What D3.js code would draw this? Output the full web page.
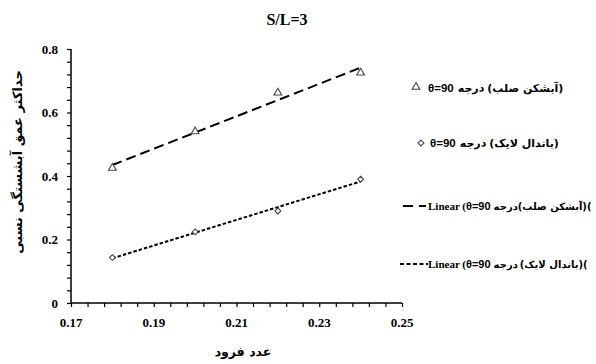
<!DOCTYPE html>
<html><head><meta charset="utf-8">
<script src="https://cdn.jsdelivr.net/npm/d3@7"></script>
<style>body{margin:0;background:#fff}svg{display:block}</style>
</head><body>
<svg id="c" width="596" height="364"></svg>
<script>
const title = "S/L=3";
const xLabel = "عدد فرود";
const yLabel = "حداکثر عمق آبشستگی نسبی";
const froude = [0.18, 0.20, 0.22, 0.24];
const rigidDepth = [0.425, 0.54, 0.662, 0.725];   // آبشکن صلب
const bandalDepth = [0.143, 0.224, 0.29, 0.39];   // باندال لایک
const xTicks = [0.17, 0.19, 0.21, 0.23, 0.25];
const yTicks = [0, 0.2, 0.4, 0.6, 0.8];
const legendRigid = ["θ=90", "درجه", "(آبشکن صلب)"];
const legendBandal = ["θ=90", "درجه", "(باندال لایک)"];
const legendRigidLin = ["Linear (", "θ=90", "درجه", "(آبشکن صلب)("];
const legendBandalLin = ["Linear (", "θ=90", "درجه", "(باندال لایک)("];

const svg = d3.select("#c");
const x = d3.scaleLinear().domain([0.17, 0.25]).range([71, 402]);
const y = d3.scaleLinear().domain([0, 0.8]).range([303, 49]);
const serif = "'Liberation Serif','Times New Roman',serif";
const sans = "'Liberation Sans',Arial,sans-serif";
const arab = "'DejaVu Sans',sans-serif";

// axes
const xAxis = d3.axisBottom(x).tickValues(d3.range(0, 21).map(i => 0.17 + i * 0.004)).tickSize(4).tickFormat("");
const gx = svg.append("g").attr("transform", "translate(0,303)").call(xAxis);
gx.select(".domain").attr("stroke", "#000").attr("stroke-width", 1.5).attr("d", "M71,0H402");
gx.selectAll(".tick line").attr("stroke", "#000").attr("stroke-width", 1.2);
svg.append("g").selectAll("text").data(xTicks).join("text")
  .attr("x", d => x(d)).attr("y", 327).attr("text-anchor", "middle")
  .attr("font-family", serif).attr("font-weight", "bold").attr("font-size", 13)
  .text(d => d.toFixed(2));

const yAxis = d3.axisLeft(y).tickValues(d3.range(0, 21).map(i => i * 0.04)).tickSize(4).tickFormat("");
const gy = svg.append("g").attr("transform", "translate(71,0)").call(yAxis);
gy.select(".domain").attr("stroke", "#000").attr("stroke-width", 1.5).attr("d", "M0,49V303");
gy.selectAll(".tick line").attr("stroke", "#000").attr("stroke-width", 1.2);
svg.append("g").selectAll("text").data(yTicks).join("text")
  .attr("x", 58).attr("y", d => y(d) + 4.5).attr("text-anchor", "end")
  .attr("font-family", serif).attr("font-weight", "bold").attr("font-size", 13)
  .text(d => d === 0 ? "0" : d.toFixed(1));

// title & labels
svg.append("text").attr("x", 287).attr("y", 25).attr("text-anchor", "middle")
  .attr("font-family", serif).attr("font-weight", "bold").attr("font-size", 16).text(title);
svg.append("text").attr("x", 243).attr("y", 356).attr("text-anchor", "middle")
  .attr("font-family", arab).attr("font-weight", "bold").attr("font-size", 12.5).text(xLabel);
svg.append("text").attr("transform", "translate(22,162) rotate(-90)").attr("text-anchor", "middle")
  .attr("font-family", arab).attr("font-weight", "bold").attr("font-size", 13).text(yLabel);

// regression
function fit(xs, ys) {
  const mx = d3.mean(xs), my = d3.mean(ys);
  const b = d3.sum(xs, (v, i) => (v - mx) * (ys[i] - my)) / d3.sum(xs, v => (v - mx) ** 2);
  return v => my + b * (v - mx);
}
const fR = fit(froude, rigidDepth), fB = fit(froude, bandalDepth);
const x0 = d3.min(froude), x1 = d3.max(froude);
const line = d3.line().x(d => x(d[0])).y(d => y(d[1]));
svg.append("path").attr("d", line([[x0, fR(x0)], [x1, fR(x1)]]))
  .attr("stroke", "#000").attr("stroke-width", 2).attr("stroke-dasharray", "10,5").attr("fill", "none");
svg.append("path").attr("d", line([[x0, fB(x0)], [x1, fB(x1)]]))
  .attr("stroke", "#000").attr("stroke-width", 2).attr("stroke-dasharray", "3.5,2").attr("fill", "none");

// markers
const tri = d3.symbol().type(d3.symbolTriangle).size(26);
const dia = d3.symbol().type(d3.symbolDiamond2).size(22);
svg.append("g").selectAll("path").data(froude).join("path")
  .attr("transform", (d, i) => `translate(${x(d)},${y(rigidDepth[i])})`)
  .attr("d", tri()).attr("fill", "#fff").attr("stroke", "#444").attr("stroke-width", 1.1);
svg.append("g").selectAll("path").data(froude).join("path")
  .attr("transform", (d, i) => `translate(${x(d)},${y(bandalDepth[i])})`)
  .attr("d", dia()).attr("fill", "#fff").attr("stroke", "#444").attr("stroke-width", 1.1);

// legend
function flow(pieces, startX, yy, fonts) {
  let cx = startX;
  pieces.forEach((p, i) => {
    const f = fonts[i];
    const t = svg.append("text").attr("x", cx).attr("y", yy + 4)
      .attr("font-family", f.fam).attr("font-weight", "bold").attr("font-size", f.size)
      .attr("direction", "ltr").text(p);
    cx += t.node().getComputedTextLength() + f.gap;
  });
}
const fTheta = {fam: sans, size: 11.5, gap: 4};
const fAr = {fam: arab, size: 11, gap: 3};
const fThetaS = {fam: sans, size: 11, gap: 3};
const fArS = {fam: arab, size: 10, gap: 2};
const fArS0 = {fam: arab, size: 10, gap: 0};
const fLin = {fam: serif, size: 11, gap: 0};

svg.append("path").attr("transform", "translate(416,87)").attr("d", tri())
  .attr("fill", "#fff").attr("stroke", "#444").attr("stroke-width", 1.1);
flow(legendRigid, 428, 88, [fTheta, fAr, fAr]);
svg.append("path").attr("transform", "translate(421,143)").attr("d", dia())
  .attr("fill", "#fff").attr("stroke", "#444").attr("stroke-width", 1.1);
flow(legendBandal, 430, 143, [fTheta, fAr, fAr]);

svg.append("path").attr("d", "M403,206H413M419,206H426").attr("stroke", "#000").attr("stroke-width", 2);
flow(legendRigidLin, 428, 206, [fLin, fThetaS, fArS0, fArS]);
svg.append("path").attr("d", "M400,264H428").attr("stroke", "#000").attr("stroke-width", 2).attr("stroke-dasharray", "4,2.5");
flow(legendBandalLin, 428, 264, [fLin, fThetaS, fArS, fArS]);
</script>
</body></html>
